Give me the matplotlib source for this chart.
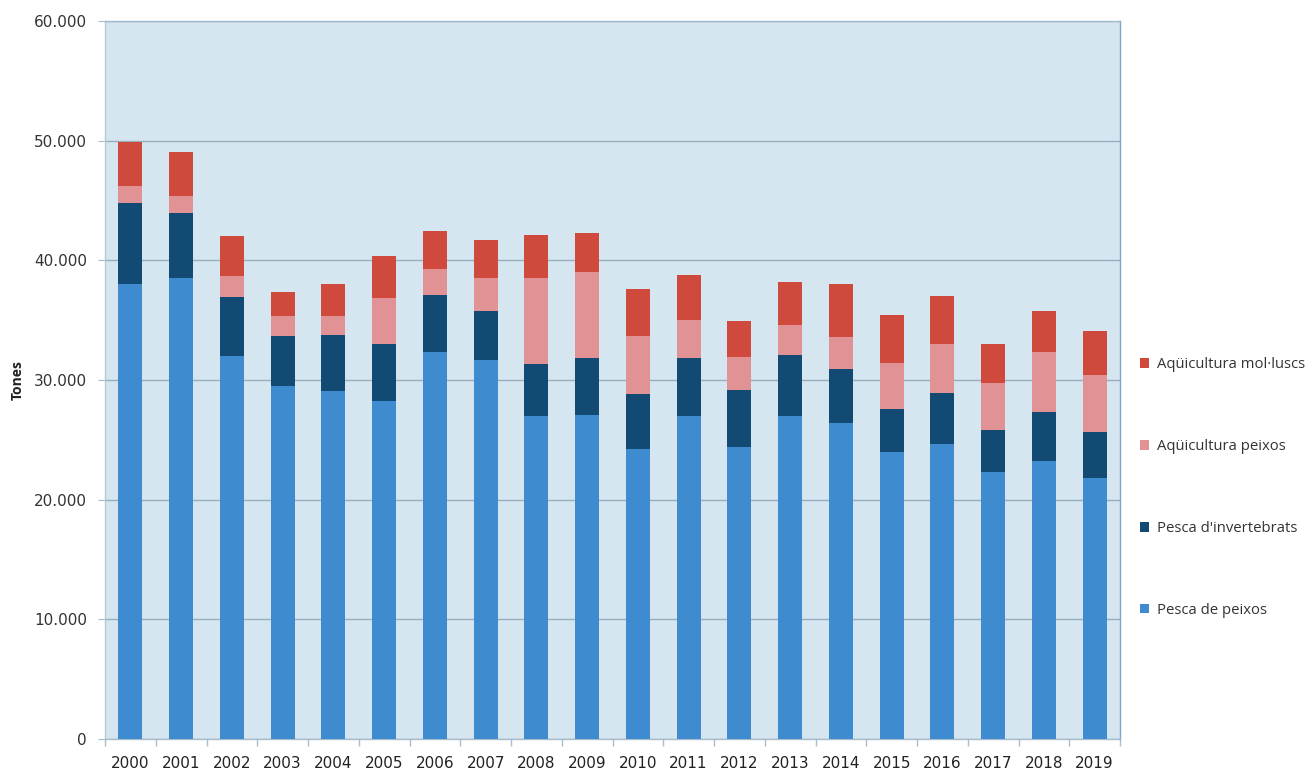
import matplotlib
matplotlib.use("Agg")
import matplotlib.pyplot as plt
from matplotlib.ticker import FuncFormatter, FixedLocator
import numpy as np

years = [str(y) for y in range(2000, 2020)]

pesca_peixos = [37990, 38490, 31970, 29460, 29120, 28280, 32300, 31630, 26950, 27110,
                24270, 27030, 24430, 27030, 26440, 24020, 24690, 22340, 23260, 21840]
pesca_invertebrats = [6780, 5440, 4930, 4180, 4600, 4690, 4770, 4100, 4350, 4690,
                      4560, 4850, 4730, 5020, 4520, 3590, 4260, 3520, 4100, 3850]
aquicultura_peixos = [1420, 1425, 1760, 1670, 1590, 3850, 2180, 2760, 7190, 7200,
                      4810, 3100, 2760, 2550, 2600, 3770, 4100, 3850, 5020, 4690]
aquicultura_molluscs = [3680, 3680, 3350, 2010, 2680, 3510, 3180, 3180, 3600, 3260,
                        3930, 3760, 2980, 3560, 4470, 4020, 3940, 3260, 3350, 3680]

series = [
    ("Pesca de peixos", pesca_peixos, "#3F8BCF"),
    ("Pesca d'invertebrats", pesca_invertebrats, "#134A74"),
    ("Aqüicultura peixos", aquicultura_peixos, "#E09294"),
    ("Aqüicultura mol·luscs", aquicultura_molluscs, "#CF4A3C"),
]

plt.rcParams['font.family'] = ['DejaVu Sans']

fig = plt.figure(figsize=(13.11, 7.72), dpi=100)
ax = fig.add_axes([105 / 1311, 33 / 772, 1015 / 1311, 718 / 772])
ax.set_facecolor("#D5E6F0")

x = np.arange(len(years))
bottom = np.zeros(len(years))
handles = []
for name, vals, color in series:
    vals = np.array(vals, dtype=float)
    h = ax.bar(x, vals, width=0.47, bottom=bottom, color=color, label=name, zorder=3)
    handles.append(h)
    bottom += vals

ax.set_xlim(-0.5, len(years) - 0.5)
ax.set_ylim(0, 60000)
ax.set_yticks(np.arange(0, 60001, 10000))
ax.yaxis.set_major_formatter(FuncFormatter(lambda v, p: f"{int(v):,}".replace(",", ".")))
ax.grid(axis="y", color="#98AEBE", linewidth=1.0, zorder=1)

ax.set_xticks(x)
ax.set_xticklabels(years)
ax.xaxis.set_minor_locator(FixedLocator(np.arange(-0.5, len(years), 1.0)))
ax.tick_params(axis="x", which="major", length=0, pad=12, labelsize=11, colors="#222222")
ax.tick_params(axis="x", which="minor", length=5, color="#A9BCCB", width=1)
ax.tick_params(axis="y", which="major", length=5, color="#A9BCCB", pad=8, labelsize=11,
               colors="#333333")
for lbl in ax.get_xticklabels():
    lbl.set_color("#222222")

for side, col in [("left", "#B5C8D6"), ("bottom", "#A9BCCB"), ("top", "#9FBACD"),
                  ("right", "#7EA6C8")]:
    ax.spines[side].set_color(col)
    ax.spines[side].set_linewidth(1.0)

ax.set_ylabel("Tones", fontsize=10, fontweight="bold", color="#222222",
              family=["Open Sans", "DejaVu Sans"])
ax.yaxis.set_label_coords(-0.079, 0.5)

ax.legend(handles[::-1], [s[0] for s in series][::-1], loc="center left",
          bbox_to_anchor=(1.02, 0.35), frameon=False,
          prop={"family": ["Open Sans", "DejaVu Sans"], "size": 10.7},
          handlelength=0.6, handleheight=0.6, handletextpad=0.5,
          labelspacing=4.5, borderaxespad=0, borderpad=0, labelcolor="#333333")

fig.savefig("out.png", dpi=100, facecolor="white")
